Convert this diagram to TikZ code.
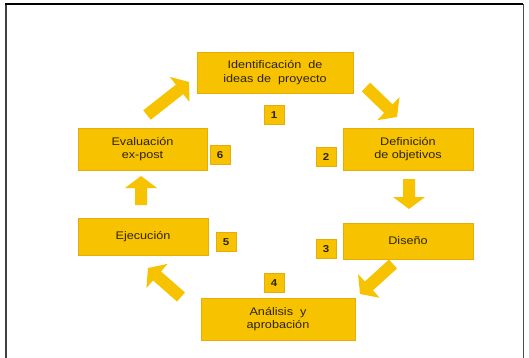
\documentclass[tikz,border=0pt]{standalone}
\usepackage{fontspec}
\setmainfont[FakeStretch=1.15]{Liberation Sans}
\usetikzlibrary{calc}
\definecolor{gold}{RGB}{247,194,0}
\definecolor{goldedge}{RGB}{230,172,10}
\definecolor{txt}{RGB}{45,35,5}
\tikzset{
  stepbox/.style={fill=gold, draw=goldedge, line width=0.8pt, inner sep=0pt, align=center,
    text=txt, font=\fontsize{11}{13.5}\selectfont},
  numbox/.style={fill=gold, draw=goldedge, line width=0.6pt, inner sep=0pt,
    minimum width=20pt, minimum height=19pt, text=txt, font=\fontsize{10}{11}\selectfont\bfseries},
  arrowfill/.style={fill=gold}
}
\newcommand{\barrow}[2]{%
  \fill[arrowfill]
    ($(#1)!6pt!90:(#2)$) --
    ($($(#2)!12pt!(#1)$)!6pt!90:(#2)$) --
    ($($(#2)!12pt!(#1)$)!16pt!90:(#2)$) --
    (#2) --
    ($($(#2)!12pt!(#1)$)!16pt!-90:(#2)$) --
    ($($(#2)!12pt!(#1)$)!6pt!-90:(#2)$) --
    ($(#1)!6pt!-90:(#2)$) -- cycle;}
\begin{document}
\begin{tikzpicture}[x=1pt,y=-1pt]
\useasboundingbox (0,0) rectangle (529,358);
\fill[white] (0,0) rectangle (529,358);
% frame
\draw[black!75, line width=2pt] (6,4) -- (6,358);
\draw[black, line width=1.2pt] (5,4) -- (523,4);
\draw[black!70, line width=1pt] (523,4) -- (523,358);
% step boxes
\node[stepbox, minimum width=156pt, minimum height=41pt] (b1) at (275,72.5) {Identificación \ de\\ideas de \ proyecto};
\node[stepbox, minimum width=130pt, minimum height=42pt] (b2) at (408,149) {Definición\\de objetivos};
\node[stepbox, minimum width=130pt, minimum height=36pt] (b3) at (408,241) {Diseño};
\node[stepbox, minimum width=154pt, minimum height=42pt] (b4) at (278,319) {Análisis \ y\\aprobación};
\node[stepbox, minimum width=130pt, minimum height=37pt] (b5) at (143,236.5) {Ejecución};
\node[stepbox, minimum width=129pt, minimum height=42pt] (b6) at (142.5,149) {Evaluación\\ex-post};
% numbers
\node[numbox] (n1) at (274,115) {1};
\node[numbox] (n2) at (326,157) {2};
\node[numbox] (n3) at (326,249) {3};
\node[numbox] (n4) at (274,283) {4};
\node[numbox] (n5) at (226,242) {5};
\node[numbox] (n6) at (220,155) {6};
% arrow ends
\coordinate (a1s) at (366,87);  \coordinate (a1e) at (397,117);
\coordinate (a2s) at (409,179); \coordinate (a2e) at (409,209);
\coordinate (a3s) at (393,264); \coordinate (a3e) at (360,294);
\coordinate (a4s) at (181,297); \coordinate (a4e) at (148,268);
\coordinate (a5s) at (141,205); \coordinate (a5e) at (141,176);
\coordinate (a6s) at (147,115); \coordinate (a6e) at (189,82);
\barrow{a1s}{a1e}
\barrow{a2s}{a2e}
\barrow{a3s}{a3e}
\barrow{a4s}{a4e}
\barrow{a5s}{a5e}
\barrow{a6s}{a6e}
\end{tikzpicture}
\end{document}
